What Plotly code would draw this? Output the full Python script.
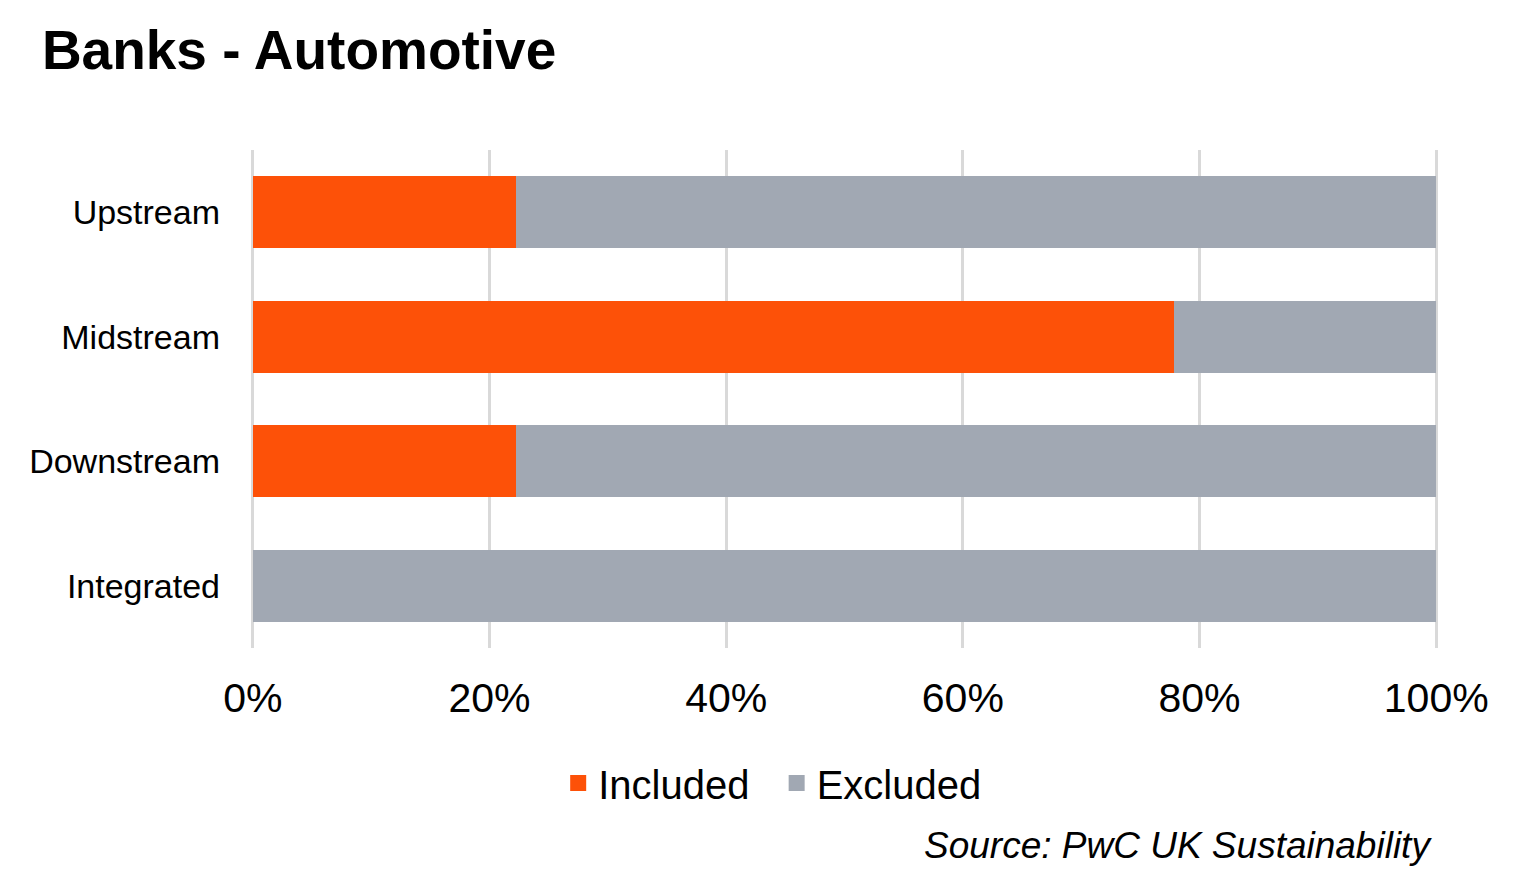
import plotly.graph_objects as go

# data (share of banks, %)
categories = ["Upstream", "Midstream", "Downstream", "Integrated"]
included = [22.2, 77.8, 22.2, 0.0]
excluded = [77.8, 22.2, 77.8, 100.0]
x_ticks = [0, 20, 40, 60, 80, 100]
x_tick_labels = ["0%", "20%", "40%", "60%", "80%", "100%"]

FONT = "Liberation Sans, Arial, sans-serif"
ORANGE = "#FD5108"
GREY = "#A1A8B3"

fig = go.Figure()
fig.add_trace(go.Bar(y=categories, x=included, name="Included", orientation="h",
                     marker_color=ORANGE, marker_line_width=0, showlegend=False))
fig.add_trace(go.Bar(y=categories, x=excluded, name="Excluded", orientation="h",
                     marker_color=GREY, marker_line_width=0, showlegend=False))

# legend entries with bigger square swatches than the bar default
fig.add_trace(go.Scatter(x=[None], y=[None], mode="markers", name="Included\u00a0\u00a0",
                         marker=dict(symbol="square", size=20, color=ORANGE)))
fig.add_trace(go.Scatter(x=[None], y=[None], mode="markers", name="Excluded",
                         marker=dict(symbol="square", size=20, color=GREY)))

fig.update_layout(
    barmode="stack",
    bargap=0.42,
    width=1540,
    height=888,
    paper_bgcolor="white",
    plot_bgcolor="white",
    margin=dict(l=243, r=110, t=142, b=248),
    font=dict(family=FONT, color="black"),
    title=dict(text="<b>Banks - Automotive</b>", x=0.022, xanchor="left",
               y=0.9527, yanchor="middle", font=dict(size=55, color="black")),
    legend=dict(orientation="h", x=0.4395, xanchor="center", y=-0.271, yanchor="middle",
                font=dict(size=40), traceorder="normal", itemsizing="trace"),
    showlegend=True,
)

fig.update_xaxes(range=[-0.15, 100.15], tickvals=x_ticks, ticktext=x_tick_labels,
                 showgrid=True, gridcolor="#D9D9D9", gridwidth=3,
                 zeroline=False, showline=False, ticks="",
                 tickfont=dict(size=41), ticklabelstandoff=22)
fig.update_yaxes(categoryorder="array", categoryarray=categories[::-1],
                 showgrid=False, zeroline=False, showline=False, ticks="",
                 tickfont=dict(size=34), ticklabelstandoff=30)

fig.add_annotation(text="<i>Source: PwC UK Sustainability</i>", xref="paper", yref="paper",
                   x=0.9965, xanchor="right", y=-0.3956, yanchor="middle",
                   showarrow=False, font=dict(size=37, color="black"))

fig.write_html("out.html")
